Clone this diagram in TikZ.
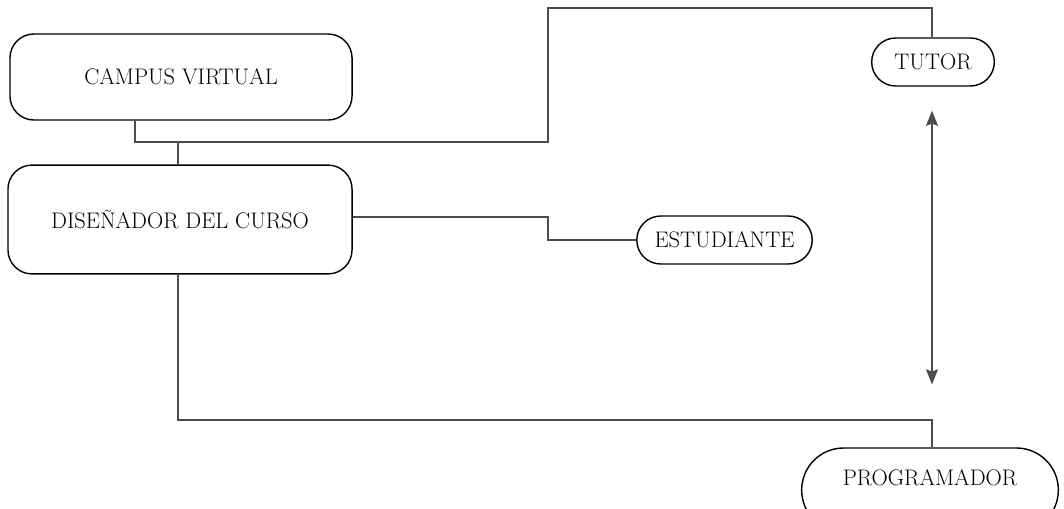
\documentclass[tikz,border=0pt]{standalone}
\usetikzlibrary{shapes.misc,arrows.meta}

\tikzset{
  box/.style={draw, line width=1pt, rounded corners=0.6cm, align=center},
  pill/.style={draw, line width=1pt, rounded rectangle, rounded rectangle arc length=180},
  link/.style={draw=black!70, line width=0.8pt},
}

\begin{document}
\begin{tikzpicture}[x=0.025cm,y=-0.025cm,font=\fontsize{16}{19}\selectfont,>={Stealth[length=3.8mm,width=3mm,inset=0.6mm]}]
        \useasboundingbox (0,0) rectangle (1064,508);
        % roles
        \node [box, minimum width=8.55cm, minimum height=2.15cm] (campus) at (181,77) {CAMPUS VIRTUAL};
        \node [box, minimum width=8.6cm, minimum height=2.72cm] (disenador) at (180,219.5) {DISEÑADOR DEL CURSO};
        \node [pill, minimum width=3.3cm, minimum height=1.2cm] (tutor) at (933,62) {TUTOR};
        \node [pill, minimum width=4.62cm, minimum height=1.2cm] (estudiante) at (724.5,240) {ESTUDIANTE};
        \node [pill, minimum width=6.65cm, minimum height=2.1cm, text depth=0.6cm] (programador) at (930,490) {PROGRAMADOR};
        % bends
        \coordinate (cj) at (135,142);
        \coordinate (tp) at (548,8);
        \coordinate (dj) at (178,142);
        \coordinate (ej) at (548,217);
        \coordinate (pj) at (178,420);
        \coordinate (tj) at (932,0);
        % connectors
        \draw [link] (campus.south -| cj) -- (cj) -| (tp) -| (tutor.north -| tj);
        \draw [link] (dj) -- (disenador.north -| dj);
        \draw [link] (disenador.east |- ej) -- (ej) |- (estudiante.west);
        \draw [link] (disenador.south -| pj) -- (pj) -| (programador.north -| tj);
        \draw [link, <->, shorten <=0.6cm, shorten >=1.57cm] (tutor.south -| tj) -- (programador.north -| tj);
\end{tikzpicture}
\end{document}
